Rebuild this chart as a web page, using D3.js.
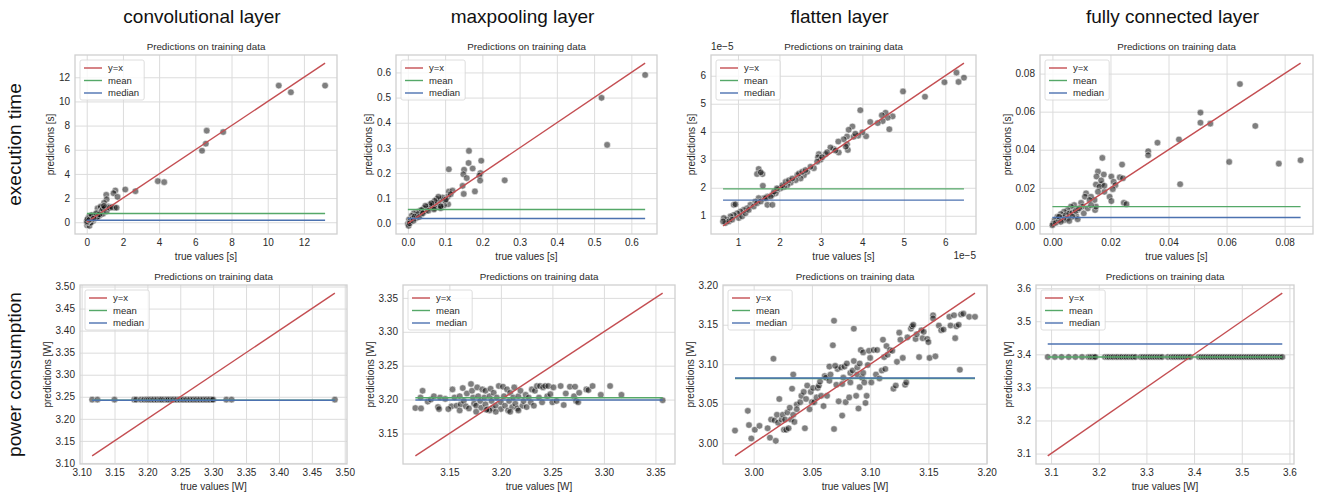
<!DOCTYPE html>
<html><head><meta charset="utf-8">
<script src="https://cdn.jsdelivr.net/npm/d3@7"></script>
<style>body{margin:0;background:#fff} text{font-family:"Liberation Sans",Arial,sans-serif}</style>
</head><body><svg id="c" width="1320" height="499"></svg>
<script>
const columnTitles = ["convolutional layer","maxpooling layer","flatten layer","fully connected layer"];
const rowTitles = ["execution time","power consumption"];
const subplotTitle = "Predictions on training data";
const legendLabels = ["y=x","mean","median"];

// [true, predicted]
const convTimePoints = [[10.61,11.31],[11.28,10.76],[13.17,11.31],[6.63,7.58],[7.54,7.47],[6.58,6.50],[6.37,5.92],[3.93,3.40],[4.28,3.32],[2.13,2.71],[2.69,2.57],[1.58,2.63],[1.48,2.40],[1.70,2.10],[1.08,2.27],[1.10,1.90],[0.96,1.60],[0.83,1.20],[1.54,1.20],[1.30,1.20],[0.60,1.15],[0.77,1.30],
[0.02,-0.25],[0.05,-0.10],[0.10,0.05],[0.03,0.15],[0.08,0.30],[0.15,-0.30],[0.20,0.00],[0.25,0.20],[0.30,0.40],[0.35,0.10],[0.40,0.50],[0.45,0.30],[0.50,0.60],[0.55,0.40],[0.60,0.70],[0.65,0.50],[0.70,0.80],[0.75,0.60],[0.80,0.90],[0.85,1.00],[0.90,0.70],[0.12,0.45],[0.18,0.50],[0.22,-0.05],[0.06,0.05],[0.01,0.00],[0.01,0.10],[0.30,0.25],[0.45,0.55],[0.60,0.45],[0.90,1.10],[1.00,1.20],[1.20,1.30],[1.10,0.90],[1.25,1.20],[0.04,0.25],[0.14,0.20],[0.28,0.60],[0.38,0.30],[0.52,0.75],[1.40,1.25],[1.65,1.20],[0.95,1.35],[0.70,0.65]];
const convTimeMean = 0.72, convTimeMedian = 0.17;

const poolTimePoints = [[0.520,0.499],[0.535,0.312],[0.637,0.590],[0.260,0.171],[0.197,0.249],[0.164,0.288],[0.163,0.240],[0.174,0.218],[0.151,0.213],[0.110,0.215],[0.149,0.195],[0.158,0.180],[0.195,0.200],[0.192,0.190],[0.194,0.170],[0.180,0.127],[0.150,0.117],[0.147,0.149],[0.110,0.126],[0.107,0.106],[0.120,0.130],[0.108,0.076],[0.090,0.095],[0.083,0.085],[0.086,0.066],[0.078,0.097],[0.069,0.078],[0.059,0.075],[0.052,0.066],[0.043,0.060],[0.034,0.052],[0.025,0.045],[0.016,0.040],[0.010,0.030],[0.003,0.015],[0.000,-0.002],[0.002,-0.010],[0.012,0.018],[0.022,0.020],[0.036,0.035],[0.047,0.048],[0.056,0.060],[0.065,0.070],[0.074,0.072],[0.088,0.060],[0.097,0.072],[0.100,0.090],[0.093,0.103],[0.082,0.106],[0.072,0.090],[0.063,0.080],[0.047,0.070],[0.037,0.053],[0.027,0.037],[0.018,0.027],[0.006,0.008],[0.072,0.060],[0.088,0.068],[0.115,0.116],[0.102,0.095],[0.005,0.000],[0.015,0.010],[0.030,0.025],[0.040,0.040],[0.055,0.050],[0.070,0.055]];
const poolTimeMean = 0.055, poolTimeMedian = 0.019;

// values in units of 1e-5 s
const flatTimePoints = [[6.45,5.93],[6.27,6.11],[6.32,5.78],[5.98,5.77],[5.51,5.25],[4.98,5.44],[4.73,4.55],[4.65,4.09],[4.61,4.50],[4.56,4.68],[4.49,4.38],[4.37,4.31],[3.95,4.77],[4.09,3.84],[4.00,3.98],[3.90,3.86],[3.79,3.82],[3.76,4.19],[3.67,4.07],[3.63,3.83],[3.55,3.73],[3.63,3.55],[3.65,3.35],[3.60,3.47],[3.42,3.65],[3.43,3.26],[3.31,3.38],[3.23,3.44],[3.11,3.20],[2.95,3.20],[2.93,3.09],[2.99,3.00],[2.91,2.93],[2.83,2.70],[2.67,2.57],[2.59,2.45],[2.51,2.33],[2.43,2.45],[2.39,2.27],[2.27,2.18],[2.19,2.09],[2.11,2.03],[2.03,1.98],[1.95,1.92],[1.91,1.80],[1.83,1.75],[1.71,1.69],[1.63,1.63],[1.50,2.67],[1.46,2.49],[1.59,2.49],[1.55,2.55],[1.60,2.07],[1.71,1.39],[1.83,1.39],[1.50,1.63],[1.42,1.51],[1.30,1.39],[1.22,1.27],[1.14,1.21],[1.06,1.15],[0.98,1.09],[0.90,1.39],[0.94,1.41],[0.90,1.03],[0.82,0.98],[0.74,0.86],[0.66,0.92],[0.70,0.74],[0.78,0.80],[0.86,0.86],[1.02,0.92],[1.10,0.98],[1.18,1.09],[1.26,1.21],[1.38,1.33],[1.46,1.45],[1.55,1.51],[1.67,1.63],[1.79,1.69],[1.87,1.86],[1.94,1.98],[2.07,2.09],[2.15,2.21],[2.23,2.27],[2.31,2.33],[2.47,2.51],[2.55,2.57],[2.63,2.63],[2.75,2.75],[3.03,3.09],[3.15,3.27],[3.35,3.33],[3.83,3.93],[4.19,4.35],[4.47,4.59],[0.64,0.80]];
const flatTimeMean = 1.96, flatTimeMedian = 1.56;

const fcTimePoints = [[0.0646,0.0745],[0.0699,0.0525],[0.0609,0.0336],[0.0780,0.0327],[0.0855,0.0345],[0.0510,0.0595],[0.0510,0.0542],[0.0544,0.0537],[0.0436,0.0454],[0.0440,0.0219],[0.0362,0.0437],[0.0330,0.0392],[0.0330,0.0371],[0.0240,0.0322],[0.0172,0.0357],[0.0157,0.0285],[0.0177,0.0270],[0.0152,0.0259],[0.0203,0.0259],[0.0232,0.0255],[0.0243,0.0250],[0.0211,0.0232],[0.0217,0.0214],[0.0208,0.0193],[0.0170,0.0218],[0.0150,0.0217],[0.0162,0.0205],[0.0179,0.0179],[0.0197,0.0153],[0.0203,0.0130],[0.0246,0.0121],[0.0255,0.0114],[0.0145,0.0136],[0.0116,0.0171],[0.0112,0.0153],[0.0133,0.0153],[0.0128,0.0136],[0.0147,0.0083],[0.0150,0.0101],[0.0099,0.0121],[0.0104,0.0101],[0.0087,0.0083],[0.0108,0.0066],[0.0082,0.0052],[0.0075,0.0109],[0.0064,0.0101],[0.0052,0.0083],[0.0040,0.0074],[0.0029,0.0062],[0.0017,0.0048],[0.0008,0.0030],[0.0003,0.0012],[0.0000,0.0003],[0.0012,0.0016],[0.0023,0.0030],[0.0035,0.0044],[0.0046,0.0056],[0.0058,0.0065],[0.0069,0.0069],[0.0080,0.0079],[0.0092,0.0092],[0.0052,0.0039],[0.0069,0.0048],[0.0087,0.0035],[0.0023,0.0048],[0.0040,0.0030],[0.0029,0.0021],[0.0058,0.0026],[0.0122,0.0092],[0.0133,0.0109],[0.0168,0.0239],[0.0157,0.0179],[0.0179,0.0211]];
const fcTimeMean = 0.0101, fcTimeMedian = 0.0044;

const convPowerPoints = [[3.116,3.2435],[3.124,3.2435],[3.150,3.2435],[3.180,3.2435],[3.183,3.2435],[3.190,3.2435],[3.195,3.2435],[3.199,3.2435],[3.202,3.2435],[3.205,3.2435],[3.208,3.2435],[3.210,3.2435],[3.213,3.2435],[3.215,3.2435],[3.218,3.2435],[3.220,3.2435],[3.222,3.2435],[3.225,3.2435],[3.228,3.2435],[3.230,3.2435],[3.232,3.2435],[3.235,3.2435],[3.238,3.2435],[3.240,3.2435],[3.243,3.2435],[3.245,3.2435],[3.248,3.2435],[3.250,3.2435],[3.253,3.2435],[3.255,3.2435],[3.258,3.2435],[3.260,3.2435],[3.263,3.2435],[3.265,3.2435],[3.268,3.2435],[3.270,3.2435],[3.273,3.2435],[3.275,3.2435],[3.278,3.2435],[3.280,3.2435],[3.283,3.2435],[3.285,3.2435],[3.288,3.2435],[3.290,3.2435],[3.293,3.2435],[3.295,3.2435],[3.298,3.2435],[3.300,3.2435],[3.320,3.2435],[3.328,3.2435],[3.485,3.2435]];
const convPowerMean = 3.2425, convPowerMedian = 3.2420;

const poolPowerPoints = [[3.117,3.1875],[3.1225,3.187],[3.124,3.213],[3.122,3.203],[3.129,3.197],[3.132,3.200],[3.135,3.205],[3.139,3.189],[3.140,3.186],[3.141,3.203],[3.146,3.201],[3.152,3.190],[3.153,3.215],[3.155,3.203],[3.157,3.191],[3.160,3.205],[3.161,3.193],[3.163,3.217],[3.164,3.198],[3.166,3.190],[3.167,3.209],[3.169,3.187],[3.171,3.223],[3.172,3.213],[3.173,3.203],[3.174,3.194],[3.176,3.191],[3.177,3.218],[3.178,3.205],[3.180,3.198],[3.181,3.188],[3.182,3.215],[3.184,3.203],[3.185,3.213],[3.185,3.193],[3.187,3.186],[3.189,3.205],[3.190,3.216],[3.191,3.198],[3.192,3.187],[3.193,3.210],[3.195,3.191],[3.196,3.203],[3.198,3.220],[3.200,3.196],[3.200,3.186],[3.202,3.219],[3.203,3.205],[3.204,3.191],[3.206,3.215],[3.207,3.184],[3.208,3.198],[3.209,3.210],[3.211,3.189],[3.212,3.203],[3.213,3.218],[3.214,3.194],[3.216,3.187],[3.217,3.205],[3.219,3.213],[3.221,3.191],[3.222,3.198],[3.224,3.207],[3.225,3.189],[3.227,3.203],[3.229,3.196],[3.230,3.215],[3.232,3.191],[3.233,3.213],[3.235,3.220],[3.237,3.203],[3.238,3.220],[3.240,3.196],[3.241,3.218],[3.243,3.220],[3.245,3.205],[3.246,3.220],[3.248,3.208],[3.250,3.196],[3.251,3.218],[3.254,3.198],[3.258,3.220],[3.261,3.192],[3.263,3.209],[3.267,3.219],[3.271,3.205],[3.272,3.219],[3.273,3.198],[3.275,3.196],[3.276,3.210],[3.283,3.215],[3.285,3.214],[3.289,3.220],[3.297,3.207],[3.306,3.220],[3.317,3.207],[3.357,3.199],[3.149,3.186],[3.160,3.184],[3.176,3.182],[3.195,3.182],[3.217,3.184],[3.209,3.182],[3.189,3.184],[3.186,3.185]];
const poolPowerMean = 3.2027, poolPowerMedian = 3.1993;

const flatPowerPoints = [[2.984,3.016],[2.995,3.041],[2.996,3.023],[2.998,3.006],[3.001,3.017],[3.005,3.022],[3.012,3.019],[3.014,3.007],[3.015,3.030],[3.017,3.107],[3.018,3.029],[3.019,3.003],[3.020,3.036],[3.021,3.026],[3.022,3.056],[3.024,3.030],[3.025,3.036],[3.026,3.017],[3.027,3.030],[3.028,3.017],[3.029,3.039],[3.030,3.019],[3.031,3.045],[3.032,3.030],[3.033,3.069],[3.034,3.087],[3.034,3.036],[3.035,3.027],[3.037,3.049],[3.037,3.043],[3.040,3.052],[3.041,3.060],[3.043,3.065],[3.044,3.019],[3.045,3.056],[3.046,3.073],[3.048,3.043],[3.049,3.065],[3.050,3.052],[3.051,3.070],[3.052,3.052],[3.054,3.058],[3.055,3.070],[3.056,3.073],[3.057,3.078],[3.058,3.060],[3.060,3.047],[3.061,3.085],[3.062,3.083],[3.063,3.060],[3.065,3.079],[3.066,3.087],[3.068,3.124],[3.069,3.155],[3.069,3.018],[3.071,3.074],[3.072,3.094],[3.073,3.053],[3.075,3.096],[3.076,3.075],[3.076,3.035],[3.077,3.083],[3.078,3.097],[3.079,3.052],[3.080,3.101],[3.082,3.058],[3.083,3.089],[3.083,3.077],[3.085,3.092],[3.086,3.145],[3.086,3.104],[3.088,3.060],[3.089,3.087],[3.089,3.096],[3.090,3.044],[3.091,3.071],[3.091,3.101],[3.092,3.118],[3.093,3.083],[3.094,3.115],[3.094,3.089],[3.095,3.077],[3.096,3.051],[3.097,3.060],[3.098,3.099],[3.099,3.117],[3.100,3.108],[3.101,3.077],[3.103,3.118],[3.105,3.087],[3.106,3.118],[3.108,3.082],[3.110,3.092],[3.111,3.131],[3.112,3.109],[3.113,3.094],[3.114,3.123],[3.115,3.112],[3.117,3.118],[3.119,3.117],[3.120,3.069],[3.122,3.073],[3.123,3.103],[3.125,3.140],[3.126,3.131],[3.128,3.108],[3.130,3.074],[3.131,3.077],[3.132,3.134],[3.135,3.145],[3.136,3.148],[3.137,3.150],[3.139,3.132],[3.140,3.138],[3.142,3.109],[3.144,3.143],[3.145,3.133],[3.146,3.141],[3.149,3.132],[3.150,3.128],[3.151,3.108],[3.154,3.162],[3.154,3.158],[3.156,3.110],[3.159,3.149],[3.161,3.143],[3.163,3.144],[3.168,3.160],[3.169,3.149],[3.172,3.162],[3.173,3.133],[3.174,3.148],[3.176,3.150],[3.177,3.093],[3.178,3.163],[3.180,3.164],[3.185,3.160],[3.190,3.160],[3.065,3.097],[3.070,3.098]];
const flatPowerMean = 3.0820, flatPowerMedian = 3.0825;

const fcPowerTrue = [3.093,3.108,3.122,3.137,3.151,3.165,3.178,3.182,3.186,3.190,3.193,3.213,3.218,3.222,3.227,3.231,3.236,3.240,3.245,3.249,3.254,3.258,3.263,3.268,3.272,3.277,3.288,3.293,3.298,3.303,3.308,3.313,3.318,3.323,3.328,3.333,3.345,3.352,3.357,3.362,3.367,3.372,3.377,3.382,3.387,3.392,3.410,3.415,3.420,3.425,3.430,3.435,3.440,3.445,3.450,3.455,3.460,3.465,3.470,3.475,3.480,3.485,3.490,3.495,3.500,3.505,3.510,3.515,3.520,3.525,3.530,3.535,3.540,3.545,3.550,3.555,3.560,3.565,3.570,3.575,3.580,3.585];
const fcPowerPred = 3.392;
const fcPowerMean = 3.392, fcPowerMedian = 3.431;

const convTimeTicks = [0,2,4,6,8,10,12];
const poolTimeTicks = [0,0.1,0.2,0.3,0.4,0.5,0.6];
const flatTimeTicks = [1,2,3,4,5,6];
const fcTimeTicks = [0,0.02,0.04,0.06,0.08];
const convPowerTicks = [3.10,3.15,3.20,3.25,3.30,3.35,3.40,3.45,3.50];
const poolPowerTicks = [3.15,3.20,3.25,3.30,3.35];
const flatPowerTicks = [3.00,3.05,3.10,3.15,3.20];
const fcPowerTicks = [3.1,3.2,3.3,3.4,3.5,3.6];

const RED = "#C44E52", GREEN = "#55A868", BLUE = "#4C72B0";

const panels = [
 {pts: convTimePoints, mean: convTimeMean, median: convTimeMedian, ticks: convTimeTicks, fmt: "d", unit: "s", f: {x:75,y:55,w:262,h:179}},
 {pts: poolTimePoints, mean: poolTimeMean, median: poolTimeMedian, ticks: poolTimeTicks, fmt: ".1f", unit: "s", f: {x:396,y:55,w:261,h:179}},
 {pts: flatTimePoints, mean: flatTimeMean, median: flatTimeMedian, ticks: flatTimeTicks, fmt: "d", unit: "s", f: {x:711,y:55,w:265,h:179}, offset: "1e\u22125"},
 {pts: fcTimePoints, mean: fcTimeMean, median: fcTimeMedian, ticks: fcTimeTicks, fmt: ".2f", unit: "s", f: {x:1040,y:55,w:273,h:179}},
 {pts: convPowerPoints, mean: convPowerMean, median: convPowerMedian, ticks: convPowerTicks, fmt: ".2f", unit: "W", f: {x:80,y:285,w:267,h:179}},
 {pts: poolPowerPoints, mean: poolPowerMean, median: poolPowerMedian, ticks: poolPowerTicks, fmt: ".2f", unit: "W", f: {x:403,y:285,w:272,h:179}},
 {pts: flatPowerPoints, mean: flatPowerMean, median: flatPowerMedian, ticks: flatPowerTicks, fmt: ".2f", unit: "W", f: {x:723,y:285,w:264,h:179}},
 {pts: fcPowerTrue.map(t => [t, fcPowerPred]), mean: fcPowerMean, median: fcPowerMedian, ticks: fcPowerTicks, fmt: ".1f", unit: "W", f: {x:1036,y:285,w:258,h:179}}
];

const svg = d3.select("#c");
const TXT = "#2a2a2a";

function pad(ext){ const r = ext[1]-ext[0]; return [ext[0]-0.05*r, ext[1]+0.05*r]; }

panels.forEach((p, i) => {
  const f = p.f;
  const g = svg.append("g").attr("transform", `translate(${f.x},${f.y})`);
  const tx = p.pts.map(d => d[0]);
  const ty = p.pts.map(d => d[1]);
  const xExt = d3.extent(tx);
  const yExt = d3.extent(ty.concat(xExt).concat([p.mean, p.median]));
  const x = d3.scaleLinear().domain(pad(xExt)).range([0, f.w]);
  const y = d3.scaleLinear().domain(pad(yExt)).range([f.h, 0]);
  const fmt = d3.format(p.fmt);

  const xa = g.append("g").attr("transform", `translate(0,${f.h})`)
    .call(d3.axisBottom(x).tickValues(p.ticks).tickFormat(fmt).tickSize(-f.h).tickPadding(5));
  const ya = g.append("g")
    .call(d3.axisLeft(y).tickValues(p.ticks).tickFormat(fmt).tickSize(-f.w).tickPadding(5));
  [xa, ya].forEach(a => {
    a.select(".domain").remove();
    a.selectAll("line").attr("stroke", "#dcdcdc").attr("stroke-width", 1);
    a.selectAll("text").attr("fill", TXT).attr("font-size", 10).attr("font-family", "Liberation Sans, Arial, sans-serif");
  });
  g.append("rect").attr("width", f.w).attr("height", f.h).attr("fill", "none").attr("stroke", "#d0d0d0").attr("stroke-width", 1.3);

  // scatter
  g.append("g").selectAll("circle").data(p.pts).join("circle")
    .attr("cx", d => x(d[0])).attr("cy", d => y(d[1])).attr("r", 3.3)
    .attr("fill", "rgba(0,0,0,0.5)").attr("stroke", "#fff").attr("stroke-width", 0.5);

  const line = d3.line().x(d => x(d[0])).y(d => y(d[1]));
  g.append("path").attr("d", line([[xExt[0], xExt[0]], [xExt[1], xExt[1]]])).attr("stroke", RED).attr("stroke-width", 1.4).attr("fill", "none");
  g.append("path").attr("d", line([[xExt[0], p.mean], [xExt[1], p.mean]])).attr("stroke", GREEN).attr("stroke-width", 1.4).attr("fill", "none");
  g.append("path").attr("d", line([[xExt[0], p.median], [xExt[1], p.median]])).attr("stroke", BLUE).attr("stroke-width", 1.4).attr("fill", "none");

  // title
  g.append("text").attr("x", f.w/2).attr("y", -5).attr("text-anchor", "middle").attr("font-size", 9.8).attr("fill", TXT).text(subplotTitle);
  // x label
  g.append("text").attr("x", f.w/2).attr("y", f.h + 26).attr("text-anchor", "middle").attr("font-size", 10).attr("fill", TXT).text(`true values [${p.unit}]`);
  // y label
  const tickW = d3.max(ya.selectAll("text").nodes(), n => n.getComputedTextLength());
  g.append("text").attr("transform", `translate(${-5 - tickW - 5},${f.h/2}) rotate(-90)`).attr("text-anchor", "middle").attr("font-size", 10).attr("fill", TXT).text(`predictions [${p.unit}]`);

  if (p.offset) {
    g.append("text").attr("x", 0).attr("y", -5).attr("font-size", 10).attr("fill", TXT).text(p.offset);
    g.append("text").attr("x", f.w).attr("y", f.h + 25).attr("text-anchor", "end").attr("font-size", 10).attr("fill", TXT).text(p.offset);
  }

  // legend
  const lg = g.append("g").attr("transform", "translate(5,5)");
  const box = lg.append("rect").attr("rx", 2).attr("fill", "rgba(255,255,255,0.8)").attr("stroke", "#d6d6d6").attr("stroke-width", 0.8);
  const cols = [RED, GREEN, BLUE];
  let maxW = 0;
  legendLabels.forEach((lab, k) => {
    const yy = 8 + k * 12.5;
    lg.append("line").attr("x1", 4).attr("x2", 22).attr("y1", yy).attr("y2", yy).attr("stroke", cols[k]).attr("stroke-width", 1.4);
    const t = lg.append("text").attr("x", 28).attr("y", yy + 3.3).attr("font-size", 9.5).attr("fill", TXT).text(lab);
    maxW = Math.max(maxW, t.node().getComputedTextLength());
  });
  box.attr("width", 28 + maxW + 5).attr("height", 40);
});

// column titles
const colCenters = panels.slice(0, 4).map(p => p.f.x + p.f.w / 2 - 4);
columnTitles.forEach((t, i) => {
  svg.append("text").attr("x", colCenters[i]).attr("y", 23).attr("text-anchor", "middle").attr("font-size", 19).attr("fill", "#111").text(t);
});
// row titles
const rowCenters = [panels[0].f.y + panels[0].f.h / 2, panels[4].f.y + panels[4].f.h / 2];
rowTitles.forEach((t, i) => {
  svg.append("text").attr("transform", `translate(21,${rowCenters[i]}) rotate(-90)`).attr("text-anchor", "middle").attr("font-size", 19).attr("fill", "#111").text(t);
});
</script></body></html>
